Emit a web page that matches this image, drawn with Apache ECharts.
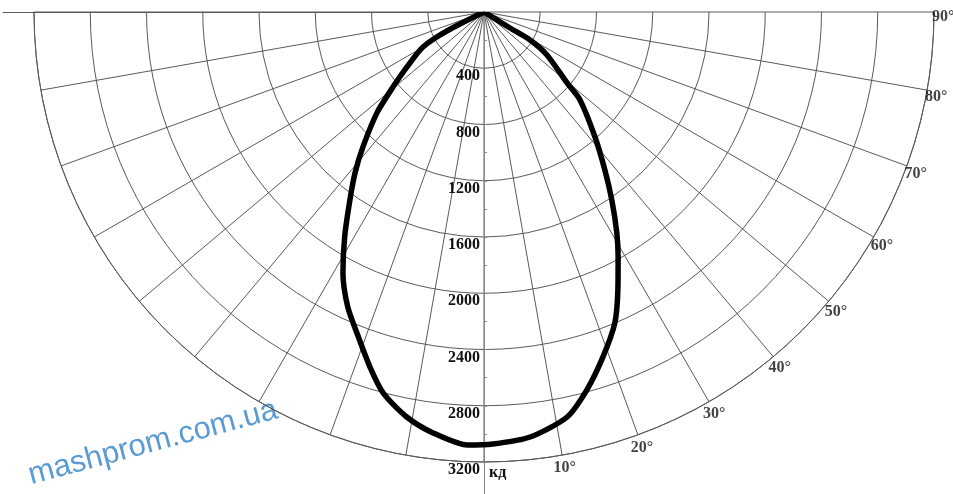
<!DOCTYPE html>
<html><head><meta charset="utf-8">
<script src="https://cdn.jsdelivr.net/npm/echarts@6/dist/echarts.min.js"></script>
<style>html,body{margin:0;padding:0;background:#fff}#c{width:953px;height:494px}</style>
</head><body><div id="c"></div>
<script>
// Luminous intensity curve: angle from nadir (deg, right side positive) and intensity (cd)
const intensityAngles = [-63, -63, -60.2, -54.5, -50.5, -46.7, -41.9, -38.7, -35.5, -31.8, -28.4, -24.8, -21.6, -17.8, -14.8, -10.8, -6.9, -2.2, 1.2, 6.2, 11.6, 15.2, 19.0, 22.8, 25.7, 28.7, 31.0, 34.2, 37.4, 41.6, 47.5, 49.5, 55.7, 58.7, 58.4, 58];
const intensityValues = [0, 292, 500, 673, 839, 1046, 1289, 1467, 1642, 1880, 2109, 2310, 2455, 2652, 2803, 2932, 3015, 3081, 3072, 3040, 2940, 2786, 2596, 2400, 2195, 1986, 1834, 1617, 1415, 1189, 926, 777, 542, 383, 217, 0];
const angleLabelValues = [10, 20, 30, 40, 50, 60, 70, 80, 90];
const radiusLabelValues = [400, 800, 1200, 1600, 2000, 2400, 2800, 3200];
const unitLabel = 'кд';
const watermarkText = 'mashprom.com.ua';

const radiusMax = 3200;
const ringStep = 400;
const angleStep = 10;
const R = 450;
const center = [484, 12];
const labelRadius = radiusMax + 8 * radiusMax / R;
const serif = '"Liberation Serif", "Times New Roman", serif';
const gridColor = '#5a5a5a';

const chart = echarts.init(document.getElementById('c'), null, {renderer: 'canvas'});
chart.setOption({
  backgroundColor: '#fff',
  animation: false,
  polar: [
    {center: center, radius: R},
    {center: center, radius: R},
    {center: center, radius: R + 32},
    {center: center, radius: R + 31}
  ],
  angleAxis: [
    {polarIndex: 0, type: 'value', min: -90, max: 90, interval: angleStep,
     startAngle: 180, endAngle: 360, clockwise: false,
     axisLine: {show: true, lineStyle: {color: gridColor, width: 1}},
     axisTick: {show: false}, axisLabel: {show: false},
     splitLine: {show: true, lineStyle: {color: gridColor, width: 1}}},
    {polarIndex: 1, type: 'value', min: 0, max: 360, startAngle: 270,
     axisLine: {show: false}, axisTick: {show: false}, axisLabel: {show: false}, splitLine: {show: false}},
    {polarIndex: 2, type: 'value', min: 0, max: 360, startAngle: 270,
     axisLine: {show: false}, axisTick: {show: false}, axisLabel: {show: false}, splitLine: {show: false}},
    {polarIndex: 3, type: 'value', min: 0, max: 360, startAngle: 180,
     axisLine: {show: false}, axisTick: {show: false}, axisLabel: {show: false}, splitLine: {show: false}}
  ],
  radiusAxis: [
    {polarIndex: 0, type: 'value', min: 0, max: radiusMax, interval: ringStep,
     axisLine: {show: false}, axisTick: {show: false}, axisLabel: {show: false},
     splitLine: {show: true, lineStyle: {color: gridColor, width: 1}}},
    {polarIndex: 1, type: 'value', min: 0, max: radiusMax, interval: ringStep / 2,
     axisLine: {show: true, lineStyle: {color: '#8a8a8a', width: 1}},
     axisTick: {show: true, inside: true, length: 3, lineStyle: {color: '#8a8a8a'}},
     axisLabel: {show: true, margin: -4, align: 'right', verticalAlign: 'top',
       fontFamily: serif, fontWeight: 'bold', fontSize: 16, color: '#111',
       formatter: v => radiusLabelValues.indexOf(v) >= 0 ? String(v) : ''},
     splitLine: {show: false},
     name: unitLabel, nameLocation: 'end', nameGap: 3,
     nameTextStyle: {align: 'left', verticalAlign: 'top', padding: [0, 0, 0, 5],
       fontFamily: serif, fontWeight: 'bold', fontSize: 16, color: '#111'}},
    {polarIndex: 2, type: 'value', min: 0, max: 1,
     axisLine: {show: true, lineStyle: {color: '#8a8a8a', width: 1}},
     axisTick: {show: false}, axisLabel: {show: false}, splitLine: {show: false}},
    {polarIndex: 3, type: 'value', min: 0, max: 1,
     axisLine: {show: true, lineStyle: {color: gridColor, width: 1}},
     axisTick: {show: false}, axisLabel: {show: false}, splitLine: {show: false}}
  ],
  series: [
    {type: 'line', coordinateSystem: 'polar', polarIndex: 0, z: 5,
     data: intensityValues.map((v, i) => [v, intensityAngles[i]]),
     showSymbol: false, symbol: 'none', smooth: 0.25,
     lineStyle: {color: '#000', width: 5.5, join: 'round', cap: 'round'}},
    {type: 'scatter', coordinateSystem: 'polar', polarIndex: 0, z: 6, silent: true,
     clip: false, symbolSize: 1, itemStyle: {color: 'rgba(0,0,0,0)'},
     data: angleLabelValues.map(a => [labelRadius, a]),
     label: {show: true, position: 'inside', align: 'left', verticalAlign: 'top', offset: [-10, -3],
       fontFamily: serif, fontWeight: 'bold', fontSize: 16, color: '#111',
       formatter: p => p.value[1] + '°'}}
  ],
  graphic: [
    {type: 'text', x: 33, y: 491, rotation: 15 * Math.PI / 180, silent: true,
     style: {text: watermarkText, fontFamily: '"Liberation Sans", Arial, sans-serif', fontSize: 31,
       fill: '#5b9bd5', align: 'left', verticalAlign: 'bottom'}}
  ]
});
</script></body></html>
